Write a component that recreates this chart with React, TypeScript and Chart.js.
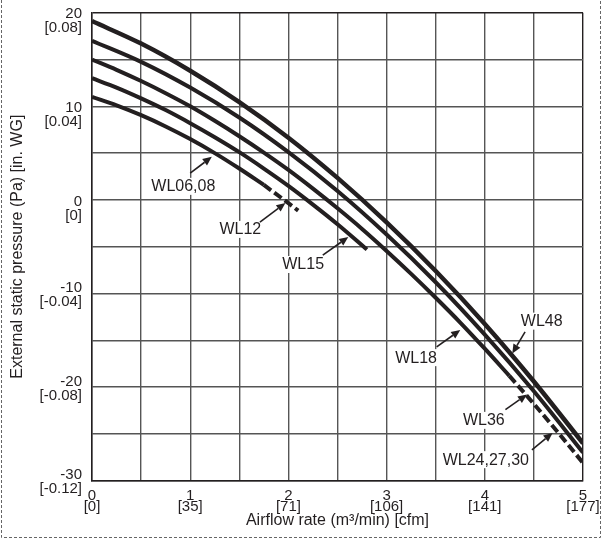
import React, { useEffect, useRef } from 'react';
import { Chart, registerables } from 'chart.js';

Chart.register(...registerables);

const INK = '#231f20';
const FONT = '"Liberation Sans", Arial, Helvetica, sans-serif';

// Axis tick labels
const xTickValues = [0, 1, 2, 3, 4, 5];
const xTickCfm = ['[0]', '[35]', '[71]', '[106]', '[141]', '[177]'];
const yTickValues = [20, 10, 0, -10, -20, -30];
const yTickInWG = ['[0.08]', '[0.04]', '[0]', '[-0.04]', '[-0.08]', '[-0.12]'];
// upper ticks have their number level with the grid line; lower ones sit centred
const yTickNumberOnLine = [true, true, true, false, false, false];

// WL06,08 (solid) and WL12 (dashed continuation)
const wl0608X = [0, 0.25, 0.5, 0.75, 1.0, 1.25, 1.5, 1.75];
const wl0608Y = [11.0, 10.1, 9.05, 7.85, 6.5, 5.0, 3.35, 1.6];
const wl12X = [1.75, 2.0, 2.1];
const wl12Y = [1.6, -0.35, -1.15];

// WL15
const wl15X = [0, 0.25, 0.5, 0.75, 1.0, 1.25, 1.5, 1.75, 2.0, 2.25, 2.5, 2.8];
const wl15Y = [13.0, 12.0, 10.85, 9.6, 8.2, 6.7, 5.1, 3.35, 1.5, -0.5, -2.6, -5.3];

// WL18 (solid) and WL24,27,30 (dashed continuation)
const wl18X = [0, 0.25, 0.5, 0.75, 1.0, 1.25, 1.5, 1.75, 2.0, 2.25, 2.5, 2.75, 3.0, 3.25, 3.5, 3.75, 4.0, 4.25];
const wl18Y = [15.0, 13.9, 12.7, 11.4, 10.0, 8.45, 6.8, 5.05, 3.2, 1.2, -0.9, -3.1, -5.45, -7.9, -10.45, -13.1, -15.9, -18.8];
const wl243X = [4.25, 4.5, 4.75, 5.0];
const wl243Y = [-18.8, -21.8, -24.9, -28.1];

// WL36
const wl36X = [0, 0.5, 1, 1.5, 2, 2.5, 3, 3.5, 4, 4.5, 5];
const wl36Y = [17.0, 14.75, 12.0, 8.8, 5.1, 0.95, -3.7, -8.8, -14.4, -20.45, -27.0];

// WL48
const wl48X = [0, 0.5, 1, 1.5, 2, 2.5, 3, 3.5, 4, 4.5, 5];
const wl48Y = [19.1, 16.7, 13.8, 10.45, 6.65, 2.35, -2.4, -7.6, -13.25, -19.4, -26.0];

// Callout labels (data coordinates): text centre, arrow tail, arrow tip
const callouts = [
  { text: 'WL06,08', tx: 0.93, ty: 1.5, ax: 1.0, ay: 2.87, bx: 1.22, by: 4.6 },
  { text: 'WL12', tx: 1.51, ty: -3.1, ax: 1.71, ay: -2.37, bx: 1.97, by: -0.33 },
  { text: 'WL15', tx: 2.15, ty: -6.85, ax: 2.35, ay: -5.9, bx: 2.61, by: -3.97 },
  { text: 'WL18', tx: 3.3, ty: -16.8, ax: 3.51, ay: -15.7, bx: 3.75, by: -13.9 },
  { text: 'WL48', tx: 4.58, ty: -12.9, ax: 4.41, ay: -14.1, bx: 4.28, by: -16.4 },
  { text: 'WL36', tx: 3.99, ty: -23.5, ax: 4.21, ay: -22.4, bx: 4.43, by: -20.8 },
  { text: 'WL24,27,30', tx: 4.01, ty: -27.7, ax: 4.48, ay: -26.7, bx: 4.69, by: -24.9 },
];

const toPts = (xs: number[], ys: number[]) => xs.map((x, i) => ({ x, y: ys[i] }));

const calloutPlugin = {
  id: 'callouts',
  afterDatasetsDraw(chart: any) {
    const { ctx, scales } = chart;
    const sx = scales.x;
    const sy = scales.y;
    ctx.save();
    ctx.font = `16px ${FONT}`;
    ctx.textAlign = 'center';
    ctx.textBaseline = 'middle';
    for (const c of callouts) {
      const tx = sx.getPixelForValue(c.tx);
      const ty = sy.getPixelForValue(c.ty);
      const w = ctx.measureText(c.text).width;
      ctx.fillStyle = '#ffffff';
      ctx.fillRect(tx - w / 2 - 2, ty - 8, w + 4, 17);
      ctx.fillStyle = INK;
      ctx.fillText(c.text, tx, ty + 1);
      const x0 = sx.getPixelForValue(c.ax);
      const y0 = sy.getPixelForValue(c.ay);
      const x1 = sx.getPixelForValue(c.bx);
      const y1 = sy.getPixelForValue(c.by);
      const ang = Math.atan2(y1 - y0, x1 - x0);
      const head = 9;
      const hw = 4;
      const hx = x1 - head * Math.cos(ang);
      const hy = y1 - head * Math.sin(ang);
      ctx.strokeStyle = INK;
      ctx.lineWidth = 1.6;
      ctx.beginPath();
      ctx.moveTo(x0, y0);
      ctx.lineTo(hx, hy);
      ctx.stroke();
      ctx.beginPath();
      ctx.moveTo(x1, y1);
      ctx.lineTo(hx + hw * Math.sin(ang), hy - hw * Math.cos(ang));
      ctx.lineTo(hx - hw * Math.sin(ang), hy + hw * Math.cos(ang));
      ctx.closePath();
      ctx.fill();
    }
    ctx.restore();
  },
};

const framePlugin = {
  id: 'frame',
  afterDraw(chart: any) {
    const { ctx } = chart;
    ctx.save();
    ctx.strokeStyle = '#666';
    ctx.lineWidth = 1;
    ctx.setLineDash([3, 2]);
    ctx.beginPath();
    ctx.moveTo(1.5, 0);
    ctx.lineTo(1.5, 537.5);
    ctx.lineTo(600.5, 537.5);
    ctx.lineTo(600.5, 0);
    ctx.stroke();
    ctx.restore();
  },
};

export default function App() {
  const ref = useRef<HTMLCanvasElement | null>(null);

  useEffect(() => {
    document.body.style.margin = '0';
    const canvas = ref.current;
    if (!canvas) return;
    const line = (label: string, xs: number[], ys: number[], dashed: boolean, width = 4) => ({
      label,
      data: toPts(xs, ys),
      borderColor: INK,
      backgroundColor: INK,
      borderWidth: width,
      borderDash: dashed ? [9, 4] : [],
      borderCapStyle: 'butt',
      borderJoinStyle: 'round',
      pointRadius: 0,
      fill: false,
      cubicInterpolationMode: 'monotone',
    });

    const chart = new Chart(canvas, {
      type: 'line',
      data: {
        datasets: [
          line('WL06,08', wl0608X, wl0608Y, false),
          line('WL12', wl12X, wl12Y, true),
          line('WL15', wl15X, wl15Y, false),
          line('WL18', wl18X, wl18Y, false),
          line('WL24,27,30', wl243X, wl243Y, true),
          line('WL36', wl36X, wl36Y, false),
          line('WL48', wl48X, wl48Y, false, 4.5),
        ] as any,
      },
      options: {
        animation: false,
        responsive: false,
        devicePixelRatio: 1,
        layout: { padding: { top: 12.7, right: 19, bottom: 0, left: 0 } },
        plugins: { legend: { display: false }, tooltip: { enabled: false } },
        events: [],
        scales: {
          x: {
            type: 'linear',
            min: 0,
            max: 5,
            border: { display: true, color: INK, width: 1.5 },
            grid: {
              drawTicks: false,
              color: (c: any) => (c.tick && c.tick.value === 5 ? INK : '#555'),
              lineWidth: 1.4,
            },
            ticks: {
              stepSize: 0.5,
              autoSkip: false,
              maxRotation: 0,
              padding: 10,
              color: INK,
              font: { family: FONT, size: 15, lineHeight: '11px' },
              callback: (v: any) => {
                const i = xTickValues.indexOf(Number(v));
                return i >= 0 ? [String(xTickValues[i]), xTickCfm[i]] : '';
              },
            },
            title: {
              display: true,
              text: 'Airflow rate (m³/min) [cfm]',
              color: INK,
              font: { family: FONT, size: 16 },
              padding: { top: 0, bottom: 12.4 },
            },
            afterFit: (s: any) => {
              s.height = 62.3;
              s.paddingLeft = 0;
              s.paddingRight = 0;
            },
          },
          y: {
            type: 'linear',
            min: -30,
            max: 20,
            border: { display: true, color: INK, width: 1.5 },
            grid: {
              drawTicks: false,
              color: (c: any) => (c.tick && c.tick.value === 20 ? INK : '#555'),
              lineWidth: 1.4,
            },
            ticks: {
              stepSize: 5,
              autoSkip: false,
              padding: 10,
              labelOffset: 1.5,
              color: INK,
              font: { family: FONT, size: 15, lineHeight: '14px' },
              callback: (v: any) => {
                const i = yTickValues.indexOf(Number(v));
                if (i < 0) return '';
                const lines = [String(yTickValues[i]), yTickInWG[i]];
                return yTickNumberOnLine[i] ? ['', ...lines] : lines;
              },
            },
            title: {
              display: true,
              text: 'External static pressure (Pa) [in. WG]',
              color: INK,
              font: { family: FONT, size: 16 },
              padding: { top: 8, bottom: 0 },
            },
            afterFit: (s: any) => {
              s.width = 92;
              s.paddingTop = 0;
              s.paddingBottom = 0;
            },
          },
        },
      } as any,
      plugins: [calloutPlugin, framePlugin],
    });
    return () => chart.destroy();
  }, []);

  return (
    <div style={{ width: 602, height: 543, position: 'relative', background: '#fff' }}>
      <canvas ref={ref} width={602} height={543} style={{ display: 'block' }} />
    </div>
  );
}
